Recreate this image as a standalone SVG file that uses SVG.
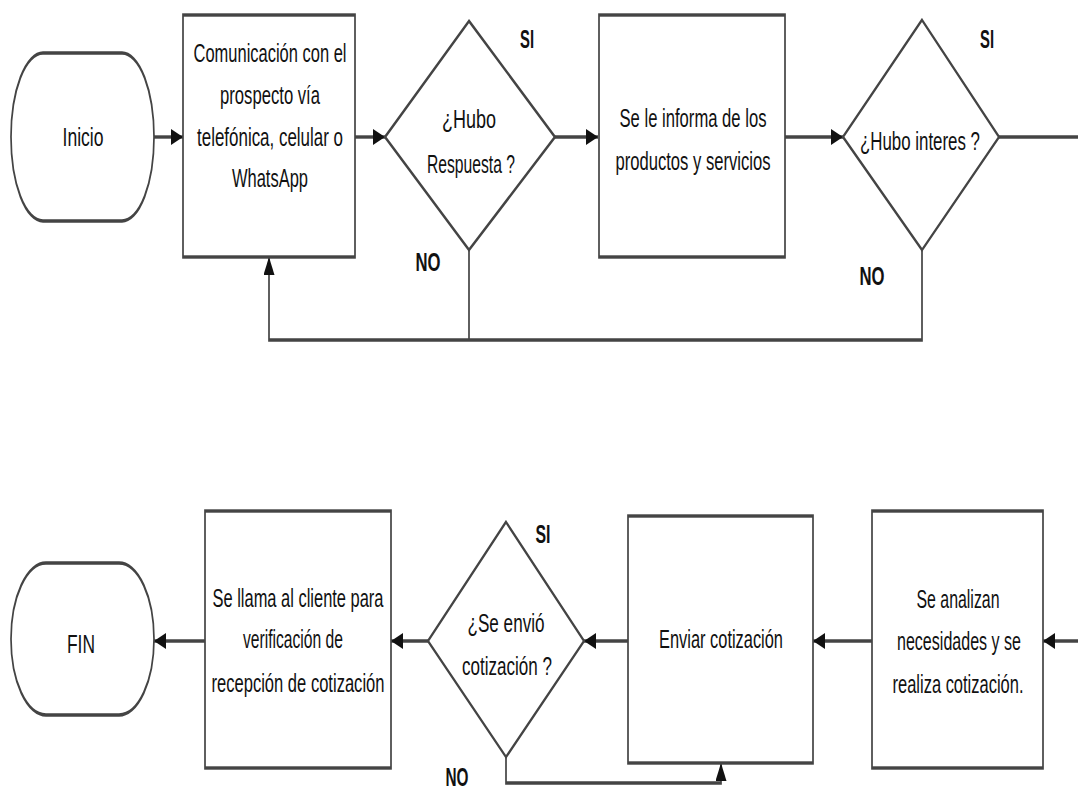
<svg xmlns="http://www.w3.org/2000/svg" width="1078" height="789" viewBox="0 0 1078 789">
  <style>
    .shape { fill: #ffffff; stroke: #444444; stroke-width: 1.7; }
    .edge { fill: none; stroke: #444444; stroke-width: 1.7; }
    .lbl { font-family: "Liberation Sans", Arial, sans-serif; font-size: 25px; fill: #111111; text-anchor: middle; }
    .tag { font-family: "Liberation Sans", Arial, sans-serif; font-size: 25px; font-weight: bold; fill: #111111; text-anchor: middle; }
  </style>
  <defs>
    <!-- arrowheads for horizontal and vertical runs (drawn inside the y-doubled layer) -->
    <marker id="arrowH" viewBox="0 0 12 8" refX="12" refY="4" markerWidth="12" markerHeight="8" orient="auto" markerUnits="userSpaceOnUse">
      <path d="M0,0 L12,4 L0,8 Z" fill="#111111"/>
    </marker>
    <marker id="arrowV" viewBox="0 0 9 11" refX="9" refY="5.5" markerWidth="9" markerHeight="11" orient="auto" markerUnits="userSpaceOnUse">
      <path d="M0,0 L9,5.5 L0,11 Z" fill="#111111"/>
    </marker>
  </defs>

  <!-- shape layer: y coordinates are halved and scaled back up, which gives
       heavier horizontal strokes than vertical ones -->
  <g transform="scale(1,2)">
    <g id="connectors">
      <path class="edge" d="M154,68.5 H183" marker-end="url(#arrowH)"/>
      <path class="edge" d="M355,68.5 H385" marker-end="url(#arrowH)"/>
      <path class="edge" d="M555,68.5 H598" marker-end="url(#arrowH)"/>
      <path class="edge" d="M785,68.5 H843" marker-end="url(#arrowH)"/>
      <path class="edge" d="M999,68.5 H1078"/>
      <path class="edge" d="M469,125 V170"/>
      <path class="edge" d="M922,125 V170 H269 V128.5" marker-end="url(#arrowV)"/>
      <path class="edge" d="M1078,320.5 H1043" marker-end="url(#arrowH)"/>
      <path class="edge" d="M872,320.5 H813" marker-end="url(#arrowH)"/>
      <path class="edge" d="M628,320.5 H584" marker-end="url(#arrowH)"/>
      <path class="edge" d="M428,320.5 H391" marker-end="url(#arrowH)"/>
      <path class="edge" d="M205,320.5 H154" marker-end="url(#arrowH)"/>
      <path class="edge" d="M506,378.5 V391.5 H721 V381.5" marker-end="url(#arrowV)"/>
    </g>

    <g id="inicio-shape">
      <path class="shape" d="M43,26.5 H122 A32,42 0 0 1 122,110.5 H43 A32,42 0 0 1 43,26.5 Z"/>
    </g>
    <g id="comunicacion-shape">
      <rect class="shape" x="183" y="7.5" width="172" height="121"/>
    </g>
    <g id="hubo-respuesta-shape">
      <polygon class="shape" points="469,10.5 555,68.5 469,125 385,68.5"/>
    </g>
    <g id="informa-shape">
      <rect class="shape" x="599" y="7.5" width="186" height="121"/>
    </g>
    <g id="hubo-interes-shape">
      <polygon class="shape" points="922,10 999,68.5 922,125 843,68.5"/>
    </g>

    <g id="fin-shape">
      <path class="shape" d="M46,281.5 H119 A35,38 0 0 1 119,357.5 H46 A35,38 0 0 1 46,281.5 Z"/>
    </g>
    <g id="llamada-shape">
      <rect class="shape" x="205" y="255.5" width="186" height="128.5"/>
    </g>
    <g id="se-envio-shape">
      <polygon class="shape" points="506,261 584,320.5 506,378.5 428,320.5"/>
    </g>
    <g id="enviar-shape">
      <rect class="shape" x="628" y="258" width="185" height="123.5"/>
    </g>
    <g id="analizan-shape">
      <rect class="shape" x="872" y="255.5" width="171" height="128.5"/>
    </g>
  </g>

  <!-- labels -->
  <g id="inicio">
    <text class="lbl" x="83" y="146" textLength="41" lengthAdjust="spacingAndGlyphs">Inicio</text>
  </g>

  <g id="comunicacion">
    <text class="lbl" x="270" y="62" textLength="153" lengthAdjust="spacingAndGlyphs">Comunicación con el</text>
    <text class="lbl" x="270" y="104" textLength="100" lengthAdjust="spacingAndGlyphs">prospecto vía</text>
    <text class="lbl" x="270" y="146" textLength="146" lengthAdjust="spacingAndGlyphs">telefónica, celular o</text>
    <text class="lbl" x="270" y="187" textLength="76" lengthAdjust="spacingAndGlyphs">WhatsApp</text>
  </g>

  <g id="hubo-respuesta">
    <text class="lbl" x="469" y="128" textLength="54" lengthAdjust="spacingAndGlyphs">¿Hubo</text>
    <text class="lbl" x="471" y="173" textLength="88" lengthAdjust="spacingAndGlyphs">Respuesta ?</text>
    <text class="tag" x="527" y="48" textLength="14" lengthAdjust="spacingAndGlyphs">SI</text>
    <text class="tag" x="428" y="271" textLength="25" lengthAdjust="spacingAndGlyphs">NO</text>
  </g>

  <g id="informa">
    <text class="lbl" x="693" y="127" textLength="147" lengthAdjust="spacingAndGlyphs">Se le informa de los</text>
    <text class="lbl" x="693" y="170" textLength="155" lengthAdjust="spacingAndGlyphs">productos y servicios</text>
  </g>

  <g id="hubo-interes">
    <text class="lbl" x="920" y="150" textLength="120" lengthAdjust="spacingAndGlyphs">¿Hubo interes ?</text>
    <text class="tag" x="987" y="48" textLength="14" lengthAdjust="spacingAndGlyphs">SI</text>
    <text class="tag" x="872" y="285" textLength="25" lengthAdjust="spacingAndGlyphs">NO</text>
  </g>

  <g id="fin">
    <text class="lbl" x="81" y="653" textLength="28" lengthAdjust="spacingAndGlyphs">FIN</text>
  </g>

  <g id="llamada">
    <text class="lbl" x="298" y="607" textLength="171" lengthAdjust="spacingAndGlyphs">Se llama al cliente para</text>
    <text class="lbl" x="293" y="648" textLength="100" lengthAdjust="spacingAndGlyphs">verificación de</text>
    <text class="lbl" x="298" y="692" textLength="173" lengthAdjust="spacingAndGlyphs">recepción de cotización</text>
  </g>

  <g id="se-envio">
    <text class="lbl" x="506" y="632" textLength="77" lengthAdjust="spacingAndGlyphs">¿Se envió</text>
    <text class="lbl" x="507" y="675" textLength="90" lengthAdjust="spacingAndGlyphs">cotización ?</text>
    <text class="tag" x="543" y="543" textLength="15" lengthAdjust="spacingAndGlyphs">SI</text>
    <text class="tag" x="457" y="786" textLength="23" lengthAdjust="spacingAndGlyphs">NO</text>
  </g>

  <g id="enviar">
    <text class="lbl" x="721" y="648" textLength="124" lengthAdjust="spacingAndGlyphs">Enviar cotización</text>
  </g>

  <g id="analizan">
    <text class="lbl" x="958" y="608" textLength="83" lengthAdjust="spacingAndGlyphs">Se analizan</text>
    <text class="lbl" x="959" y="650" textLength="124" lengthAdjust="spacingAndGlyphs">necesidades y se</text>
    <text class="lbl" x="958" y="693" textLength="131" lengthAdjust="spacingAndGlyphs">realiza cotización.</text>
  </g>
</svg>
